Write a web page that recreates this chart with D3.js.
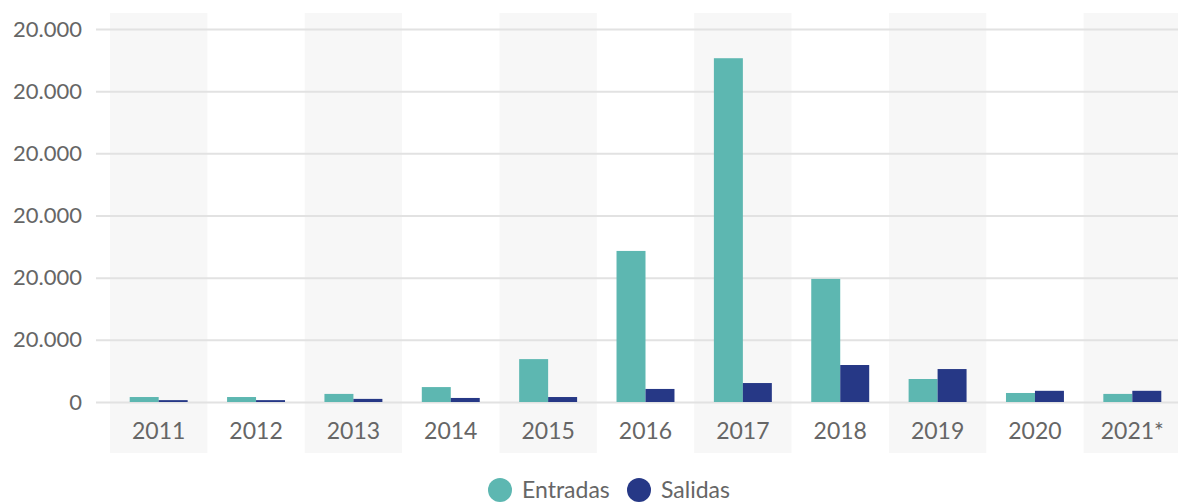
<!DOCTYPE html>
<html>
<head>
<meta charset="utf-8">
<script src="https://cdn.jsdelivr.net/npm/d3@7"></script>
<style>
  body { margin: 0; background: #fff; }
  text { font-family: Lato, "Open Sans", sans-serif; fill: #666; }
</style>
</head>
<body>
<div class="chart"></div>
<script>
const years = ["2011", "2012", "2013", "2014", "2015", "2016", "2017", "2018", "2019", "2020", "2021*"];
const entradas = [800, 800, 1300, 2400, 6900, 24300, 55300, 19800, 3700, 1450, 1300];
const salidas = [300, 300, 500, 650, 800, 2100, 3050, 5950, 5300, 1800, 1800];
const tickValues = [0, 10000, 20000, 30000, 40000, 50000, 60000];
const tickLabels = ["0", "20.000", "20.000", "20.000", "20.000", "20.000", "20.000"];
const seriesNames = ["Entradas", "Salidas"];
const colors = ["#5db7b1", "#263886"];

const width = 1178;
const height = 502;
const margin = { top: 29, right: -3, bottom: 100, left: 110 };

const svg = d3
  .select(".chart")
  .append("svg")
  .attr("width", width)
  .attr("height", height);

const x = d3
  .scaleBand()
  .domain(years)
  .range([margin.left, width - margin.right])
  .paddingInner(0)
  .paddingOuter(0);

const xInner = d3
  .scaleBand()
  .domain(seriesNames)
  .range([0, x.bandwidth()])
  .paddingOuter(0.68)
  .paddingInner(0);

const y = d3
  .scaleLinear()
  .domain([0, 60000])
  .range([402, margin.top]);

// alternating shaded columns
svg
  .append("g")
  .selectAll("rect")
  .data(years.filter((d, i) => i % 2 === 0))
  .join("rect")
  .attr("x", (d) => x(d))
  .attr("y", 13)
  .attr("width", x.bandwidth())
  .attr("height", 440)
  .attr("fill", "#f7f7f7");

// y axis with gridlines
const yAxis = svg
  .append("g")
  .attr("transform", "translate(96,0)")
  .call(
    d3
      .axisLeft(y)
      .tickValues(tickValues)
      .tickSize(-(width - 96))
      .tickPadding(14)
      .tickFormat((d, i) => tickLabels[i])
  );
yAxis.select(".domain").remove();
yAxis.selectAll(".tick line").attr("stroke", "#e2e2e2").attr("stroke-width", 2);
yAxis.selectAll(".tick text").style("font-size", "22px").attr("fill", "#666");

// bars
const groups = svg
  .append("g")
  .selectAll("g")
  .data(years)
  .join("g")
  .attr("transform", (d) => `translate(${x(d)},0)`);

groups
  .selectAll("rect")
  .data((d, i) => [
    { key: "Entradas", value: entradas[i] },
    { key: "Salidas", value: salidas[i] },
  ])
  .join("rect")
  .attr("x", (d) => xInner(d.key))
  .attr("y", (d) => y(d.value))
  .attr("width", xInner.bandwidth())
  .attr("height", (d) => y(0) - y(d.value))
  .attr("fill", (d, i) => colors[i]);

// x axis labels
const xAxis = svg
  .append("g")
  .attr("transform", "translate(0,402)")
  .call(d3.axisBottom(x).tickSize(0).tickPadding(21));
xAxis.select(".domain").remove();
xAxis.selectAll(".tick text").style("font-size", "23px").attr("fill", "#666");

// legend
const legend = svg.append("g").attr("transform", "translate(0,490)");
const legendX = [500, 639];
seriesNames.forEach((name, i) => {
  legend
    .append("circle")
    .attr("cx", legendX[i])
    .attr("cy", 0)
    .attr("r", 12)
    .attr("fill", colors[i]);
  legend
    .append("text")
    .attr("x", legendX[i] + 22)
    .attr("y", 8)
    .style("font-size", "23px")
    .text(name);
});
</script>
</body>
</html>
